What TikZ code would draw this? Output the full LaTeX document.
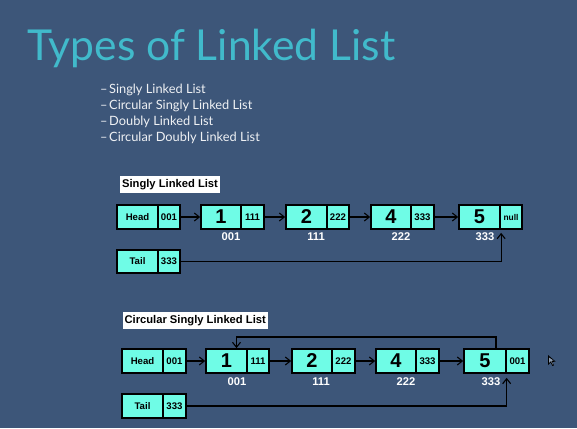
\documentclass[tikz,border=0pt]{standalone}
\usepackage{fontspec}
\setmainfont{Liberation Sans}
\newfontfamily\slidefont{Lato}
\usetikzlibrary{arrows.meta}

\definecolor{slidebg}{HTML}{3D5679}
\definecolor{titlecyan}{HTML}{41BACB}
\definecolor{cellfill}{HTML}{6FFCE6}

\tikzset{
  cell/.style={draw=black, line width=1.7pt, fill=cellfill, inner sep=0pt,
               minimum height=24pt, font=\bfseries\fontsize{9.6}{10}\selectfont},
  valcell/.style={cell, font=\bfseries\fontsize{20}{21}\selectfont},
  tagcell/.style={cell, font=\bfseries\fontsize{9.6}{10}\selectfont},
  addr/.style={text=white, font=\bfseries\fontsize{11.2}{12}\selectfont, inner sep=0pt},
  caption/.style={fill=white, text=black, inner sep=0pt, minimum height=17pt,
                  font=\bfseries\fontsize{11.2}{12}\selectfont},
  bullet/.style={text=white!92!slidebg, anchor=base west, inner sep=0pt,
                 font=\slidefont\fontsize{12.8}{13}\selectfont},
  link/.style={draw=black, line width=1.3pt, -{Straight Barb[length=5pt,width=8pt,line width=1.1pt]}},
}

\begin{document}
\begin{tikzpicture}[x=1pt, y=-1pt]
  % slide background
  \fill[slidebg] (0,0) rectangle (577,428);
  \useasboundingbox (0,0) rectangle (577,428);

  % title and topics
  \node[anchor=base west, inner sep=0pt, text=titlecyan,
        font=\slidefont\fontsize{42.6}{44}\selectfont] (title) at (27,60) {Types of Linked List};
  \node[bullet] (b1d) at (100,93.3) {–};
  \node[bullet] (b1) at (109,93.3) {Singly Linked List};
  \node[bullet] (b2d) at (100,109.3) {–};
  \node[bullet] (b2) at (109,109.3) {Circular Singly Linked List};
  \node[bullet] (b3d) at (100,125.3) {–};
  \node[bullet] (b3) at (109,125.3) {Doubly Linked List};
  \node[bullet] (b4d) at (100,141.3) {–};
  \node[bullet] (b4) at (109,141.3) {Circular Doubly Linked List};

  % ---------- singly linked list ----------
  \node[caption, minimum width=100pt] (cap1) at (170,184.5) {Singly Linked List};

  \node[tagcell, minimum width=41pt] (h1t) at (137.5,217) {Head};
  \node[cell, minimum width=22pt] (h1p) at (169,217) {001};
  \node[valcell, minimum width=40pt] (a1v) at (221,217) {1};
  \node[cell, minimum width=23pt] (a1p) at (252.5,217) {111};
  \node[valcell, minimum width=41pt] (a2v) at (306.5,217) {2};
  \node[cell, minimum width=22pt] (a2p) at (338,217) {222};
  \node[valcell, minimum width=40pt] (a4v) at (391,217) {4};
  \node[cell, minimum width=23pt] (a4p) at (422.5,217) {333};
  \node[valcell, minimum width=41pt] (a5v) at (479.5,217) {5};
  \node[cell, minimum width=22pt, font=\bfseries\fontsize{8.4}{9}\selectfont] (a5p) at (511,217) {null};

  \node[addr] (a1a) at (231,237) {001};
  \node[addr] (a2a) at (316,237) {111};
  \node[addr] (a4a) at (401,237) {222};
  \node[addr] (a5a) at (485,237) {333};

  \node[tagcell, minimum width=41pt, minimum height=23pt] (t1t) at (137.5,261.5) {Tail};
  \node[cell, minimum width=22pt, minimum height=23pt] (t1p) at (169,261.5) {333};

  \draw[link] (h1p.east) -- (a1v.west);
  \draw[link] (a1p.east) -- (a2v.west);
  \draw[link] (a2p.east) -- (a4v.west);
  \draw[link] (a4p.east) -- (a5v.west);
  \draw[link, shorten >=3pt] (t1p.east) -| ([xshift=2pt]a5p.south west);

  % ---------- circular singly linked list ----------
  \node[caption, minimum width=145pt] (cap2) at (195.2,320.5) {Circular Singly Linked List};

  \node[tagcell, minimum width=41pt] (h2t) at (142.5,361) {Head};
  \node[cell, minimum width=23pt] (h2p) at (174.5,361) {001};
  \node[valcell, minimum width=41pt] (c1v) at (226.5,361) {1};
  \node[cell, minimum width=22pt] (c1p) at (258,361) {111};
  \node[valcell, minimum width=40pt] (c2v) at (312,361) {2};
  \node[cell, minimum width=23pt] (c2p) at (343.5,361) {222};
  \node[valcell, minimum width=40pt] (c4v) at (396,361) {4};
  \node[cell, minimum width=23pt] (c4p) at (427.5,361) {333};
  \node[valcell, minimum width=42pt] (c5v) at (485,361) {5};
  \node[cell, minimum width=23pt] (c5p) at (517.5,361) {001};

  \node[addr] (c1a) at (237,382) {001};
  \node[addr] (c2a) at (321,382) {111};
  \node[addr] (c4a) at (406,382) {222};
  \node[addr] (c5a) at (491,382) {333};

  \node[tagcell, minimum width=41pt] (t2t) at (142.5,406) {Tail};
  \node[cell, minimum width=23pt] (t2p) at (174.5,406) {333};

  \draw[link] (h2p.east) -- (c1v.west);
  \draw[link] (c1p.east) -- (c2v.west);
  \draw[link] (c2p.east) -- (c4v.west);
  \draw[link] (c4p.east) -- (c5v.west);
  \coordinate (loop) at (496,337);
  \draw[link] (c5v.north -| loop) -- (loop) -| ([xshift=10pt]c1v.north);
  \draw[link, shorten >=4pt] (t2p.east) -| ([xshift=1.5pt]c5p.south west);

  % mouse pointer
  \fill[black] (548,355) -- (548,365) -- (550.5,362.5) -- (552.5,366) -- (554,365.3) -- (552.2,362) -- (555.5,361.5) -- cycle;
  \fill[slidebg!60!white] (549,357.5) -- (549,362.8) -- (550.8,361) -- (552.6,364.5) -- (553,364.3) -- (551.2,360.8) -- (553.6,360.6) -- cycle;
\end{tikzpicture}
\end{document}
